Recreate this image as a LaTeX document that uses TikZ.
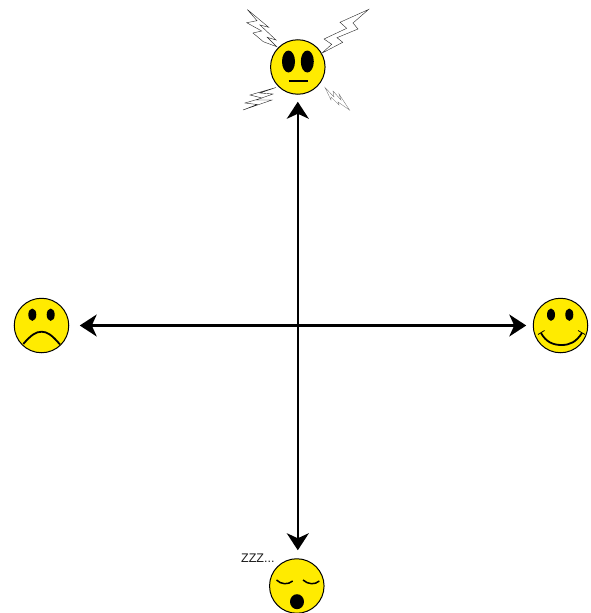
\documentclass[tikz,border=0pt]{standalone}
\usepackage{fontspec}
\setmainfont{Liberation Sans}
\usetikzlibrary{arrows.meta}
\definecolor{faceyellow}{RGB}{255,235,0}
\tikzset{
  face/.style={circle,draw=black,line width=1pt,fill=faceyellow,minimum size=54.5pt,inner sep=0pt,outer sep=0pt},
  axis/.style={line width=2.2pt,{Stealth[length=17pt,width=22pt,inset=5pt]}-{Stealth[length=17pt,width=22pt,inset=5pt]}},
  eye/.style={fill=black},
  mouthline/.style={draw=black,line width=2pt},
  bolt/.style={draw=black!85,line width=0.4pt,line join=miter,fill=white},
  boltfaint/.style={draw=black!60,line width=0.3pt,fill=white}
}
\begin{document}
\begin{tikzpicture}[x=1pt,y=-1pt]
\useasboundingbox (0,0) rectangle (591,613);
% faces
\node[face] (top) at (297.8,67) {};
\node[face] (left) at (41.5,325.5) {};
\node[face] (right) at (560.5,325.5) {};
\node[face] (bottom) at (296.8,586) {};
% axes
\draw[axis,shorten <=11pt,shorten >=7pt] (left.east) -- (right.west);
\draw[axis,shorten <=7.5pt,shorten >=8.5pt] (top.south) -- (top.south |- bottom.north);
% top face
\fill[eye] (288.5,61.5) ellipse [x radius=6.5,y radius=11];
\fill[eye] (307.3,61.5) ellipse [x radius=6.5,y radius=11];
\draw[mouthline] (288.5,81) -- (307.8,81);
% bolts
\draw[bolt] (247.3,9.5) -- (268.7,27.3) -- (260,25) -- (276,40) -- (267.3,37.3) -- (276.7,46.7) -- (263.3,41.7) -- (253,33) -- (261.7,31) -- (246.7,22.7) -- (257,20.7) -- cycle;
\draw[bolt] (368.5,9.5) -- (353,23) -- (358,29) -- (337,37.7) -- (342.7,42.3) -- (321.7,53.3) -- (331.7,44.3) -- (324,39) -- (346.7,28.3) -- (340,22.3) -- cycle;
\draw[bolt] (276,87.5) -- (250,95) -- (262,98) -- (245,103) -- (257,104.5) -- (243,110) -- (272,100) -- (256,100) -- (273,94) -- (260,93) -- cycle;
\draw[boltfaint] (325,87.5) -- (334,97) -- (333,91) -- (341,100) -- (339,94) -- (349.5,110) -- (338,102) -- (339,105) -- (331,97) -- (331,100) -- cycle;
% left face
\fill[eye] (32.3,314.7) ellipse [x radius=4,y radius=6.2];
\fill[eye] (50.7,314.7) ellipse [x radius=4,y radius=6.2];
\draw[line width=1.8pt] (23.3,344) .. controls (31,335) and (36,331.7) .. (41.7,331.7) .. controls (47,331.7) and (52,335) .. (60,344.5);
% right face
\fill[eye] (551,314.7) ellipse [x radius=4,y radius=6.2];
\fill[eye] (569.3,314.7) ellipse [x radius=4,y radius=6.2];
\draw[line width=1.8pt] (541,333) .. controls (546,342) and (553,345) .. (561.5,345) .. controls (570,345) and (576,342) .. (582,333);
\draw[line width=0.8pt] (538,334.5) -- (544.5,330.5);
\draw[line width=0.8pt] (585,334.5) -- (578,330.5);
% bottom face
\draw[line width=1.5pt] (276.5,580) .. controls (281,584.5) and (288,585) .. (292.7,581);
\draw[line width=1.5pt] (303,580) .. controls (308,584.5) and (315,585) .. (319.3,581);
\fill[eye] (297,601.7) ellipse [x radius=7,y radius=7.5];
\node[inner sep=0pt,anchor=west,font=\fontsize{12.5}{14}\selectfont,text=black!90] (zzz) at (241,558.5) {ZZZ...};
\end{tikzpicture}
\end{document}
